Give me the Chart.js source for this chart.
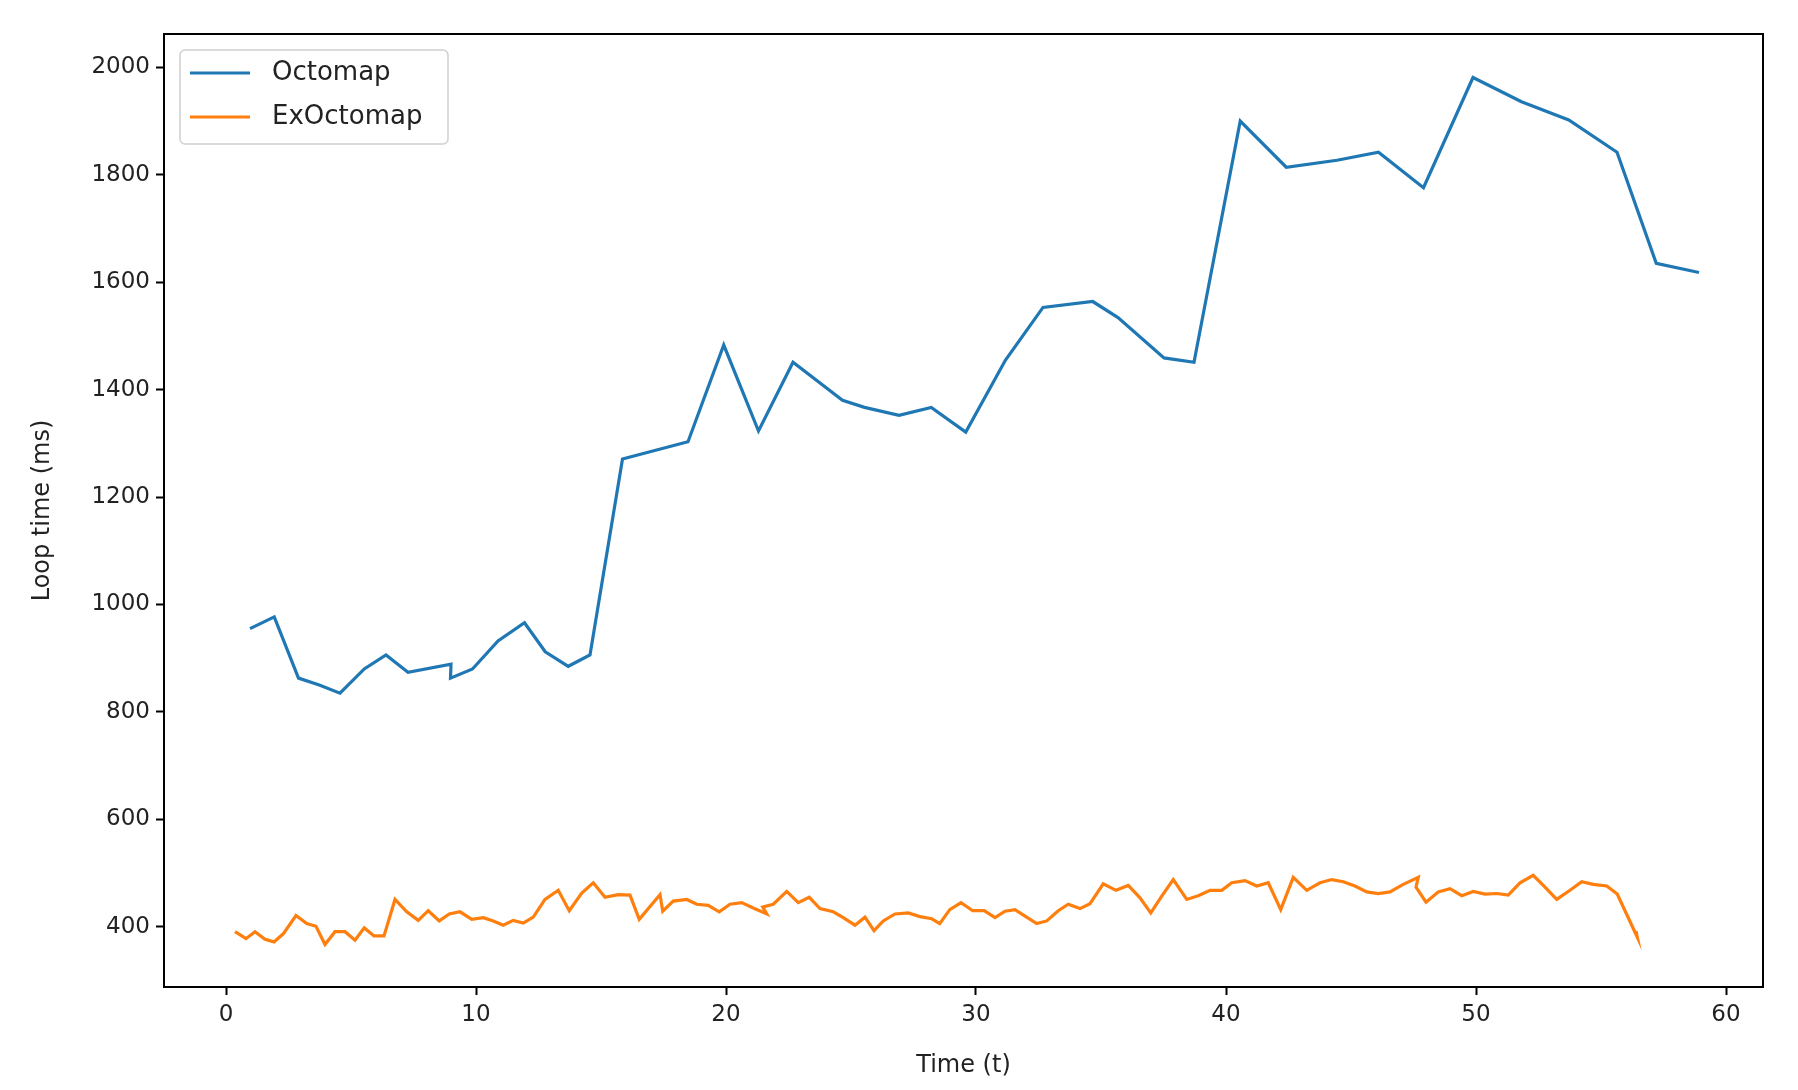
<!DOCTYPE html>
<html>
<head>
<meta charset="utf-8">
<script src="https://cdn.jsdelivr.net/npm/chart.js@4/dist/chart.umd.min.js"></script>
<style>
  html, body { margin: 0; padding: 0; background: #fff; }
  #wrap { width: 1798px; height: 1090px; }
</style>
</head>
<body>
<div id="wrap"><canvas id="chart" width="1798" height="1090"></canvas></div>
<script>
// ---- data ----
const octoT = [0.96, 1.93, 2.9, 3.73, 4.56, 5.53, 6.4, 7.28, 9.0, 8.98, 9.86, 10.88, 11.94, 12.77, 13.69, 14.56, 15.86, 18.48, 19.91, 21.3, 22.68, 24.66, 25.54, 26.92, 28.21, 29.59, 31.18, 32.68, 34.67, 35.68, 37.52, 38.72, 40.57, 42.41, 44.44, 46.1, 47.9, 49.88, 51.82, 53.71, 55.64, 57.21, 58.92];
const octoMs = [955, 977, 863, 850, 835, 880, 906, 874, 889, 863, 880, 932, 966, 912, 885, 906, 1271, 1303, 1483, 1323, 1451, 1380, 1367, 1352, 1367, 1321, 1455, 1553, 1564, 1534, 1459, 1451, 1900, 1814, 1827, 1842, 1776, 1981, 1936, 1902, 1842, 1635, 1618];

const exT = [0.36, 0.8, 1.16, 1.56, 1.92, 2.29, 2.8, 3.23, 3.6, 3.96, 4.36, 4.76, 5.16, 5.53, 5.92, 6.32, 6.76, 7.23, 7.69, 8.09, 8.53, 8.93, 9.36, 9.83, 10.29, 10.69, 11.09, 11.49, 11.89, 12.29, 12.76, 13.29, 13.73, 14.23, 14.69, 15.16, 15.69, 16.16, 16.53, 16.96, 17.36, 17.47, 17.89, 18.43, 18.83, 19.29, 19.73, 20.16, 20.63, 21.09, 21.63, 21.47, 21.89, 22.43, 22.89, 23.33, 23.76, 24.29, 24.69, 25.16, 25.56, 25.92, 26.29, 26.76, 27.29, 27.76, 28.23, 28.55, 28.95, 29.4, 29.87, 30.33, 30.76, 31.16, 31.56, 31.96, 32.43, 32.83, 33.29, 33.69, 34.16, 34.56, 35.09, 35.6, 36.09, 36.56, 36.99, 37.43, 37.89, 38.43, 38.89, 39.36, 39.83, 40.23, 40.76, 41.23, 41.69, 42.19, 42.69, 43.23, 43.76, 44.23, 44.69, 45.16, 45.63, 46.09, 46.56, 47.09, 47.69, 47.6, 48.0, 48.49, 48.96, 49.43, 49.89, 50.36, 50.83, 51.29, 51.76, 52.29, 52.76, 53.23, 53.76, 54.23, 54.69, 55.23, 55.65, 56.03, 56.45, 56.4];
const exMs = [391, 378, 391, 377, 372, 387, 421, 406, 401, 367, 391, 391, 375, 398, 383, 383, 451, 428, 412, 430, 411, 424, 428, 414, 417, 411, 403, 412, 407, 418, 451, 468, 430, 463, 482, 455, 460, 459, 414, 438, 460, 429, 448, 451, 442, 440, 428, 442, 445, 435, 424, 437, 442, 466, 445, 455, 434, 428, 417, 403, 418, 393, 411, 424, 426, 419, 415, 406, 432, 445, 430, 430, 417, 429, 432, 420, 406, 411, 430, 442, 434, 443, 480, 468, 477, 454, 426, 457, 488, 451, 458, 468, 468, 482, 486, 476, 482, 432, 492, 468, 482, 488, 484, 476, 465, 462, 465, 479, 492, 474, 446, 465, 471, 458, 466, 461, 462, 459, 482, 496, 474, 451, 468, 484, 479, 476, 461, 423, 381, 392];

const xTicks = [0, 10, 20, 30, 40, 50, 60];
const yTicks = [400, 600, 800, 1000, 1200, 1400, 1600, 1800, 2000];

const FONT = 'DejaVu Sans';
const toPts = (xs, ys) => xs.map((x, i) => ({ x: x, y: ys[i] }));

// matplotlib-like legend box in the upper-left of the plot
const mplLegend = {
  id: 'mplLegend',
  afterDraw(chart) {
    const ctx = chart.ctx;
    const a = chart.chartArea;
    const x = a.left + 16, y = a.top + 16, w = 268, h = 94;
    ctx.save();
    ctx.fillStyle = 'rgba(255,255,255,0.8)';
    ctx.strokeStyle = '#d0d0d0';
    ctx.lineWidth = 1.5;
    ctx.beginPath();
    ctx.roundRect(x, y, w, h, 5);
    ctx.fill();
    ctx.stroke();
    ctx.font = '26px ' + FONT;
    ctx.textBaseline = 'middle';
    chart.data.datasets.forEach((ds, i) => {
      const ry = y + 23 + i * 44;
      ctx.strokeStyle = ds.borderColor;
      ctx.lineWidth = 3;
      ctx.beginPath();
      ctx.moveTo(x + 10, ry);
      ctx.lineTo(x + 70, ry);
      ctx.stroke();
      ctx.fillStyle = '#222';
      ctx.fillText(ds.label, x + 92, ry);
    });
    ctx.restore();
  }
};

const axisGrid = { display: true, drawOnChartArea: false, drawTicks: true, tickLength: 8, tickColor: '#000', tickWidth: 2 };

new Chart(document.getElementById('chart'), {
  type: 'line',
  data: {
    datasets: [
      { label: 'Octomap', data: toPts(octoT, octoMs), borderColor: '#1f77b4', borderWidth: 3.2, pointRadius: 0, tension: 0 },
      { label: 'ExOctomap', data: toPts(exT, exMs), borderColor: '#ff7f0e', borderWidth: 3.2, pointRadius: 0, tension: 0 }
    ]
  },
  options: {
    responsive: false,
    animation: false,
    layout: { padding: { left: 24, right: 35, top: 34, bottom: 10 } },
    plugins: { legend: { display: false }, tooltip: { enabled: false } },
    scales: {
      x: {
        type: 'linear', min: -2.48, max: 61.48,
        afterBuildTicks: s => { s.ticks = xTicks.map(v => ({ value: v })); },
        afterFit: s => { s.height = 93; },
        grid: axisGrid,
        border: { color: '#000', width: 2 },
        ticks: { color: '#222', font: { family: FONT, size: 23 }, padding: 6, maxRotation: 0, callback: v => String(v) },
        title: { display: true, text: 'Time (t)', color: '#222', font: { family: FONT, size: 24 }, padding: { top: 0, bottom: 0 } }
      },
      y: {
        type: 'linear', min: 288, max: 2062,
        afterBuildTicks: s => { s.ticks = yTicks.map(v => ({ value: v })); },
        afterFit: s => { s.width = 140; },
        grid: axisGrid,
        border: { color: '#000', width: 2 },
        ticks: { color: '#222', font: { family: FONT, size: 23 }, padding: 6, callback: v => String(v) },
        title: { display: true, text: 'Loop time (ms)', color: '#222', font: { family: FONT, size: 24 }, padding: { bottom: 0 } }
      }
    }
  },
  plugins: [
    mplLegend,
    {
      id: 'frame',
      afterDraw(chart) {
        const a = chart.chartArea, ctx = chart.ctx;
        ctx.save();
        ctx.strokeStyle = '#000';
        ctx.lineWidth = 2;
        ctx.strokeRect(a.left, a.top, a.right - a.left, a.bottom - a.top);
        ctx.restore();
      }
    }
  ]
});
</script>
</body>
</html>
